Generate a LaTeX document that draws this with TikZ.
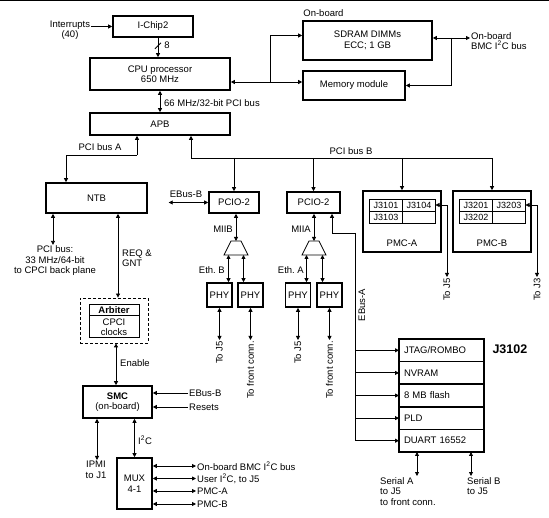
\documentclass[tikz,border=0pt]{standalone}
\usepackage{fontspec}
\setmainfont{Liberation Sans}
\usepackage{tikz}
\usetikzlibrary{arrows.meta, positioning, calc}

\begin{document}
\begin{tikzpicture}[
        x=1pt, y=-1pt,
        font=\fontsize{9.5}{10.5}\selectfont,
        box/.style={rectangle, draw, line width=1.6pt, align=center, inner sep=1pt},
        cell/.style={rectangle, draw, line width=0.8pt, minimum width=33pt, minimum height=12pt, inner sep=0pt, outer sep=0pt, font=\fontsize{9}{10}\selectfont},
        slot/.style={rectangle, draw, line width=1.6pt, minimum width=85pt, minimum height=22.6pt, text width=75pt, align=left, inner sep=0pt, outer sep=0pt},
        mux/.style={rectangle, minimum width=24pt, minimum height=14pt, inner sep=0pt, outer sep=0pt},
        lbl/.style={inner sep=1pt, align=center},
        vlbl/.style={inner sep=1pt, rotate=90, anchor=east},
        tip/.style={line width=0.8pt, -{Triangle[length=4pt, width=4pt]}},
        both/.style={line width=0.8pt, {Triangle[length=4pt, width=4pt]}-{Triangle[length=4pt, width=4pt]}},
        wire/.style={line width=0.8pt}
    ]
        \useasboundingbox (0,0) rectangle (549,518);
        \draw[line width=1pt] (0,0.5) -- (549,0.5);

        % processor side
        \node[box, minimum width=80pt, minimum height=21pt] (ichip) at (153,26.5) {I-Chip2};
        \node[lbl] (intr) at (70,30) {Interrupts\\(40)};
        \node[box, minimum width=140pt, minimum height=32pt] (cpu) at (160,74) {CPU processor\\650 MHz};
        \node[box, minimum width=140pt, minimum height=22pt] (apb) at (160,124) {APB};
        \node[lbl] (w8) at (167,45) {8};
        \node[lbl, anchor=west] (pci66) at (163,103) {66 MHz/32-bit PCI bus};

        % memory
        \node[box, minimum width=129pt, minimum height=39pt] (sdram) at (367.5,40.5) {SDRAM DIMMs\\ECC; 1 GB};
        \node[lbl, anchor=south west] (onb) at ([yshift=2pt]sdram.north west) {On-board};
        \node[box, minimum width=102pt, minimum height=29pt] (mem) at (354,85.5) {Memory module};
        \node[lbl, anchor=north west, align=left] (bmc) at (470,31) {On-board\\BMC I\textsuperscript{2}C bus};

        % PCI buses
        \node[lbl] (busA) at (100,147) {PCI bus A};
        \node[lbl] (busB) at (351,151) {PCI bus B};
        \node[box, minimum width=101pt, minimum height=30pt] (ntb) at (96.5,198) {NTB};
        \node[box, minimum width=50pt, minimum height=21pt] (pcioB) at (234,202.5) {PCIO-2};
        \node[box, minimum width=53pt, minimum height=21pt] (pcioA) at (313.5,202.5) {PCIO-2};
        \node[lbl] (ebb) at (186,194) {EBus-B};

        % PMC sites
        \node[box, minimum width=78pt, minimum height=61pt] (pmca) at (402,221.5) {};
        \node[box, minimum width=78pt, minimum height=61pt] (pmcb) at (492,221.5) {};
        \node[cell] (c3101) at (386,205) {J3101};
        \node[cell, right=0pt of c3101] (c3104) {J3104};
        \node[cell, below=0pt of c3101] (c3103) {J3103};
        \node[cell, below=0pt of c3104] (ca4) {};
        \node[cell] (c3201) at (476,205) {J3201};
        \node[cell, right=0pt of c3201] (c3203) {J3203};
        \node[cell, below=0pt of c3201] (c3202) {J3202};
        \node[cell, below=0pt of c3203] (cb4) {};
        \node[lbl] (pmcalbl) at (402,243.5) {PMC-A};
        \node[lbl] (pmcblbl) at (492,243.5) {PMC-B};
        \node[vlbl] (pmcJ5) at (447,277) {To J5};
        \node[vlbl] (pmcJ3) at (537,277) {To J3};

        % ethernet
        \node[mux] (trapB) at (236,248) {};
        \node[mux] (trapA) at (314,248) {};
        \foreach \t in {trapB, trapA}
            \draw[wire] (\t.south west) -- (\t.south east) -- ([xshift=-7pt]\t.north east) -- ([xshift=7pt]\t.north west) -- cycle;
        \node[lbl, anchor=east] (miib) at (234,229) {MIIB};
        \node[lbl, anchor=east] (miia) at (312,229) {MIIA};
        \node[lbl, anchor=east] (ethb) at (226,270) {Eth.\ B};
        \node[lbl, anchor=east] (etha) at (305,270) {Eth.\ A};
        \node[box, minimum width=25pt, minimum height=24pt] (phyB1) at (219.5,295) {PHY};
        \node[box, minimum width=25pt, minimum height=24pt] (phyB2) at (250.5,295) {PHY};
        \node[box, minimum width=25pt, minimum height=24pt] (phyA1) at (298,295) {PHY};
        \node[box, minimum width=25pt, minimum height=24pt] (phyA2) at (329.5,295) {PHY};
        \node[vlbl] (jB1) at (219.5,340) {To J5};
        \node[vlbl] (fB2) at (250.5,340) {To front conn.};
        \node[vlbl] (jA1) at (298,340) {To J5};
        \node[vlbl] (fA2) at (329.5,340) {To front conn.};
        \node[lbl, rotate=90] (ebA) at (362,305) {EBus-A};

        % J3102
        \node[slot] (jtag) at (441.5,350.3) {JTAG/ROMBO};
        \node[slot, below=0pt of jtag] (nvram) {NVRAM};
        \node[slot, below=0pt of nvram] (flash) {8 MB flash};
        \node[slot, below=0pt of flash] (pld) {PLD};
        \node[slot, below=0pt of pld] (duart) {DUART 16552};
        \node[font=\fontsize{12.5}{14}\selectfont\bfseries, anchor=west] (j3102) at (489,349) {J3102};
        \node[lbl, anchor=north west, align=left] (serA) at (379,476) {Serial A\\to J5\\to front conn.};
        \node[lbl, anchor=north west, align=left] (serB) at (466,476) {Serial B\\to J5};

        % CPCI side
        \node[lbl] (pcibp) at (55,261) {PCI bus:\\33 MHz/64-bit\\to CPCI back plane};
        \node[lbl, anchor=west, align=left] (reqgnt) at (121,258) {REQ \&\\GNT};
        \node[draw, line width=0.8pt, dash pattern=on 3pt off 2pt, minimum width=68pt, minimum height=45pt] (arb) at (114,320.5) {};
        \node[draw, line width=1pt, minimum width=50pt, minimum height=11pt, inner sep=0pt, outer sep=0pt, font=\fontsize{9.5}{10.5}\selectfont\bfseries] (arbhd) at (114,310.5) {Arbiter};
        \node[draw, line width=1pt, minimum width=50pt, minimum height=22pt, inner sep=0pt, outer sep=0pt, align=center, below=0pt of arbhd] (clk) {CPCI\\clocks};
        \node[lbl, anchor=west] (enbl) at (119,363) {Enable};
        \node[box, minimum width=69pt, minimum height=32pt] (smc) at (117.5,402) {\textbf{SMC}\\(on-board)};
        \node[lbl, anchor=west] (ebb2) at (188,393) {EBus-B};
        \node[lbl, anchor=west] (rst) at (188,407) {Resets};
        \node[lbl, anchor=north] (ipmi) at (96,460) {IPMI\\to J1};
        \node[lbl, anchor=west] (i2c) at (137,440) {I\textsuperscript{2}C};
        \node[box, minimum width=35pt, minimum height=51pt] (mux) at (134.5,483.5) {MUX\\4-1};
        \node[lbl, anchor=west] (m1) at (196,466) {On-board BMC I\textsuperscript{2}C bus};
        \node[lbl, anchor=west] (m2) at (196,478.5) {User I\textsuperscript{2}C, to J5};
        \node[lbl, anchor=west] (m3) at (196,491) {PMC-A};
        \node[lbl, anchor=west] (m4) at (196,504) {PMC-B};

        % connectors
        \draw[tip] (intr.east |- ichip.west) -- (ichip.west);
        \draw[tip] ([xshift=5pt]ichip.south) -- ([xshift=5pt]ichip.south |- cpu.north);
        \draw[wire] ([xshift=2pt, yshift=-11pt]ichip.south) -- ++(6,-6);
        \draw[both] (cpu.south) -- (apb.north);

        \coordinate (jm) at (270,82);
        \draw[tip] (jm) -- (jm -| cpu.east);
        \draw[tip] (jm) -- (jm -| mem.west);
        \draw[tip] (jm) |- ([yshift=5pt]sdram.west);
        \coordinate (jr) at (451,38);
        \draw[tip] (jr) -- (jr -| sdram.east);
        \draw[tip] (jr) -- (jr -| bmc.west);
        \draw[tip] (jr) |- (mem.east);

        \coordinate (busAj) at (137,155);
        \draw[tip] (busAj) -- (busAj |- apb.south);
        \draw[tip] (busAj) -| ([xshift=-30.5pt]ntb.north);
        \coordinate (busBj) at (191,158);
        \draw[tip] (busBj) -- (busBj |- apb.south);
        \draw[wire] (busBj) -- (busBj -| pmcb.north);
        \foreach \n in {pcioB, pcioA, pmca, pmcb}
            \draw[tip] (busBj -| \n.north) -- (\n.north);

        \draw[both] ([xshift=-43.5pt]ntb.south) -- ([xshift=-43.5pt]ntb.south |- pcibp.north);
        \draw[both] ([xshift=21.5pt]ntb.south) -- ([xshift=21.5pt]ntb.south |- arb.north);
        \draw[both] ([xshift=2pt]arb.south) -- ([xshift=2pt]arb.south |- smc.north);
        \foreach \n in {ebb2, rst}
            \draw[tip] (\n.west) -- (\n.west -| smc.east);
        \draw[both] ([xshift=-20.5pt]smc.south) -- ([xshift=-20.5pt]smc.south |- ipmi.north);
        \draw[both] (mux.north |- smc.south) -- (mux.north);
        \foreach \n in {m1, m2, m3, m4}
            \draw[both] (\n.west -| mux.east) -- (\n.west);

        \draw[both] (ebb.west |- pcioB.west) -- (pcioB.west);
        \draw[both] (trapB.north |- pcioB.south) -- (trapB.north);
        \draw[both] (trapA.north |- pcioA.south) -- (trapA.north);
        \draw[both] ([xshift=-7.5pt]trapB.south) -- ([xshift=-7.5pt]trapB.south |- phyB1.north);
        \draw[both] ([xshift=7.5pt]trapB.south) -- ([xshift=7.5pt]trapB.south |- phyB2.north);
        \draw[both] ([xshift=-7.5pt]trapA.south) -- ([xshift=-7.5pt]trapA.south |- phyA1.north);
        \draw[both] ([xshift=8.5pt]trapA.south) -- ([xshift=8.5pt]trapA.south |- phyA2.north);
        \draw[both] (phyB1.south) -- (jB1.east);
        \draw[both] (phyB2.south) -- (fB2.east);
        \draw[both] (phyA1.south) -- (jA1.east);
        \draw[both] (phyA2.south) -- (fA2.east);

        \draw[both] (c3104.east) -| (pmcJ5.east);
        \draw[both] (c3203.east) -| (pmcJ3.east);

        \coordinate (ea) at (355,233);
        \draw[tip] (ea) -| ([xshift=18.5pt]pcioA.south);
        \draw[wire] (ea) -- (ea |- duart.west);
        \foreach \n in {jtag, nvram, flash, pld, duart}
            \draw[tip] (ea |- \n.west) -- (\n.west);
        \draw[both] ([xshift=-24.5pt]duart.south) -- ([xshift=-24.5pt]duart.south |- serA.north);
        \draw[both] ([xshift=29.5pt]duart.south) -- ([xshift=29.5pt]duart.south |- serB.north);
    \end{tikzpicture}
\end{document}
